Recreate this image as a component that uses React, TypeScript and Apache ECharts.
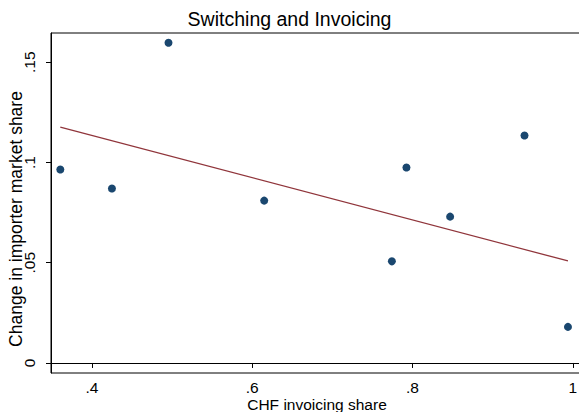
import React, { useEffect, useRef } from "react";
import * as echarts from "echarts";

const invoicingShare = [0.3606, 0.425, 0.4956, 0.615, 0.7743, 0.7925, 0.847, 0.9398, 0.994];
const marketShareChange = [0.0965, 0.087, 0.1597, 0.081, 0.0507, 0.0975, 0.073, 0.1135, 0.018];
const fitX = [0.3606, 0.994];
const fitY = [0.1177, 0.0509];
const xTicks = [0.4, 0.6, 0.8, 1];
const yTicks = [0, 0.05, 0.1, 0.15];
const yTitle = "Change in importer market share";

const fmt = (v: number) => {
  const s = String(Math.round(v * 1000) / 1000);
  return s.startsWith("0.") ? s.slice(1) : s;
};

export default function App() {
  const ref = useRef<HTMLDivElement>(null);
  useEffect(() => {
    if (!ref.current) return;
    const chart = echarts.init(ref.current, null, { renderer: "svg" });
    const font = "'Liberation Sans', Arial, Helvetica, sans-serif";
    chart.setOption({
      animation: false,
      backgroundColor: "#ffffff",
      title: {
        text: "Switching and Invoicing",
        left: "center",
        top: 4,
        textStyle: { fontFamily: font, fontSize: 19.5, fontWeight: "normal", color: "#000" },
      },
      graphic: [
        {
          type: "text",
          x: 16,
          y: 219,
          rotation: Math.PI / 2,
          style: {
            text: yTitle,
            fontFamily: font,
            fontSize: 17.5,
            fill: "#000",
            align: "center",
            verticalAlign: "middle",
            textAlign: "center",
            textVerticalAlign: "middle",
          },
        },
      ],
      grid: {
        left: 51,
        top: 33,
        right: -4,
        bottom: 39,
        outerBoundsMode: "none",
        containLabel: false,
        show: true,
        borderColor: "#000",
        borderWidth: 1,
        backgroundColor: "transparent",
      },
      xAxis: {
        type: "value",
        min: 0.349,
        max: 0.349 + 532 / 801.5,
        name: "CHF invoicing share",
        nameLocation: "middle",
        nameGap: 23,
        nameMoveOverlap: false,
        nameTextStyle: { fontFamily: font, fontSize: 15.5, color: "#000" },
        splitLine: { show: false },
        axisLine: { show: true, lineStyle: { color: "#000", width: 1 } },
        axisTick: { show: true, length: 5, customValues: xTicks, lineStyle: { color: "#000" } },
        axisLabel: {
          customValues: xTicks,
          formatter: fmt,
          fontFamily: font,
          fontSize: 15.5,
          color: "#000",
          margin: 6,
        },
      },
      yAxis: {
        type: "value",
        min: -0.005,
        max: 0.1646,
        splitLine: { show: false },
        axisLine: { show: true, lineStyle: { color: "#000", width: 1 } },
        axisTick: { show: true, length: 5, customValues: yTicks, lineStyle: { color: "#000" } },
        axisLabel: {
          customValues: yTicks,
          formatter: fmt,
          rotate: 90,
          fontFamily: font,
          fontSize: 15.5,
          color: "#000",
          margin: 14,
        },
      },
      series: [
        {
          type: "scatter",
          data: invoicingShare.map((x, i) => [x, marketShareChange[i]]),
          symbolSize: 8,
          itemStyle: { color: "#1a476f", opacity: 1 },
          z: 3,
        },
        {
          type: "line",
          data: fitX.map((x, i) => [x, fitY[i]]),
          showSymbol: false,
          symbol: "none",
          lineStyle: { color: "#90353b", width: 1.3 },
          z: 2,
        },
      ],
    });
    return () => chart.dispose();
  }, []);
  return <div ref={ref} style={{ width: 579, height: 412, position: "absolute", left: 0, top: 0 }} />;
}
